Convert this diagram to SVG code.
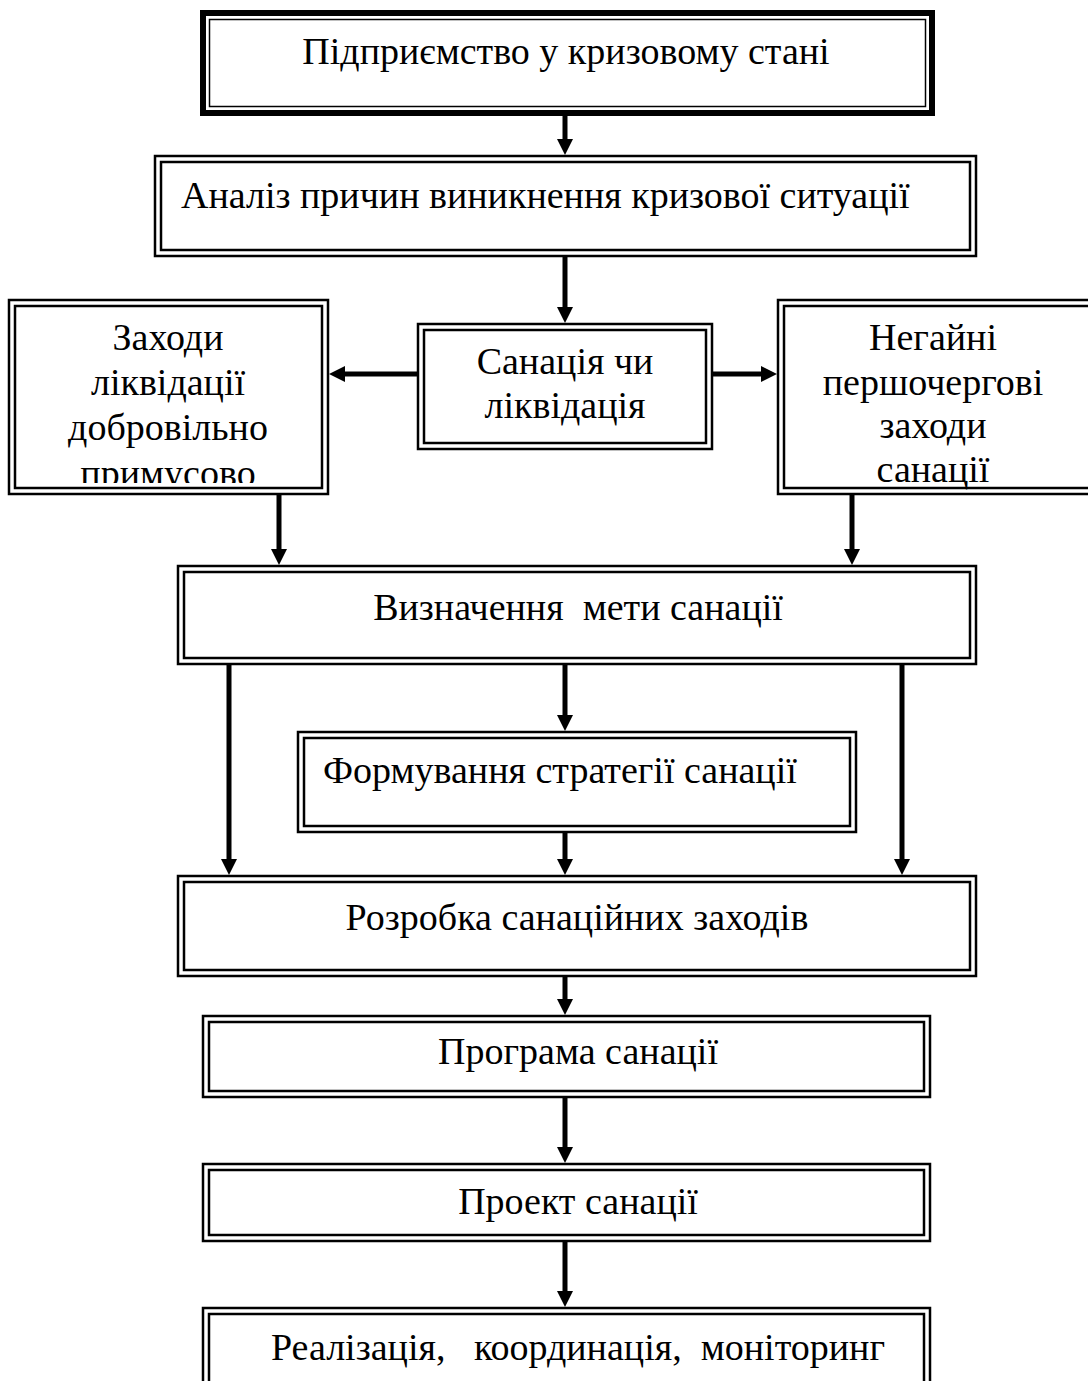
<svg xmlns="http://www.w3.org/2000/svg" width="1088" height="1381" viewBox="0 0 1088 1381">
<style>
.o{fill:#fff;stroke:#000;stroke-width:2.5}
.i{fill:none;stroke:#000;stroke-width:2.5}
.t{font-family:"Liberation Serif","Times New Roman",serif;font-size:38px;fill:#000}
.c{text-anchor:middle}
.ln{stroke:#000;stroke-width:5;fill:none;marker-end:url(#ah)}
</style>
<defs>
<marker id="ah" viewBox="0 0 16 16" refX="1" refY="8" markerWidth="16" markerHeight="16" markerUnits="userSpaceOnUse" orient="auto">
<path d="M0,0 L16,8 L0,16 z" fill="#000"/>
</marker>
<clipPath id="clipL"><rect x="0" y="290" width="340" height="193"/></clipPath>
</defs>
<rect width="1088" height="1381" fill="#fff"/>

<g id="n1">
<rect x="203" y="13" width="729" height="100" fill="#fff" stroke="#000" stroke-width="6"/>
<rect x="209.5" y="19.5" width="716" height="87" fill="none" stroke="#000" stroke-width="1.5"/>
<text class="t c" x="566" y="64">Підприємство у кризовому стані</text>
</g>

<g id="n2">
<rect class="o" x="155" y="156" width="821" height="100"/>
<rect class="i" x="161" y="162" width="809" height="88"/>
<text class="t" x="181" y="208">Аналіз причин виникнення кризової ситуації</text>
</g>

<g id="n3">
<rect class="o" x="418" y="324" width="294" height="125"/>
<rect class="i" x="424" y="330" width="282" height="113"/>
<text class="t c" x="565" y="374">Санація чи</text>
<text class="t c" x="565" y="418">ліквідація</text>
</g>

<g id="n4">
<rect class="o" x="9" y="300" width="319" height="194"/>
<rect class="i" x="15" y="306" width="307" height="182"/>
<g clip-path="url(#clipL)">
<text class="t c" x="168" y="350">Заходи</text>
<text class="t c" x="168" y="395">ліквідації</text>
<text class="t c" x="168" y="440">добровільно</text>
<text class="t c" x="168" y="486">примусово</text>
</g>
</g>

<g id="n5">
<rect class="o" x="778" y="300" width="330" height="194"/>
<rect class="i" x="784" y="306" width="318" height="182"/>
<text class="t c" x="933" y="350">Негайні</text>
<text class="t c" x="933" y="395">першочергові</text>
<text class="t c" x="933" y="438">заходи</text>
<text class="t c" x="933" y="482">санації</text>
</g>

<g id="n6">
<rect class="o" x="178" y="566" width="798" height="98"/>
<rect class="i" x="184" y="572" width="786" height="86"/>
<text class="t c" x="578" y="620" xml:space="preserve">Визначення  мети санації</text>
</g>

<g id="n7">
<rect class="o" x="298" y="732" width="558" height="100"/>
<rect class="i" x="304" y="738" width="546" height="88"/>
<text class="t" x="323" y="783">Формування стратегії санації</text>
</g>

<g id="n8">
<rect class="o" x="178" y="876" width="798" height="100"/>
<rect class="i" x="184" y="882" width="786" height="88"/>
<text class="t c" x="577" y="930">Розробка санаційних заходів</text>
</g>

<g id="n9">
<rect class="o" x="203" y="1016" width="727" height="81"/>
<rect class="i" x="209" y="1022" width="715" height="69"/>
<text class="t c" x="578" y="1064">Програма санації</text>
</g>

<g id="n10">
<rect class="o" x="203" y="1164" width="727" height="77"/>
<rect class="i" x="209" y="1170" width="715" height="65"/>
<text class="t c" x="578" y="1214">Проект санації</text>
</g>

<g id="n11">
<rect class="o" x="203" y="1308" width="727" height="90"/>
<rect class="i" x="209" y="1314" width="715" height="78"/>
<text class="t c" x="578" y="1360" xml:space="preserve">Реалізація,   координація,  моніторинг</text>
</g>

<g id="connectors">
<line class="ln" x1="565" y1="113" x2="565" y2="140"/>
<line class="ln" x1="565" y1="256" x2="565" y2="308"/>
<line class="ln" x1="418" y1="374" x2="344" y2="374"/>
<line class="ln" x1="712" y1="374" x2="762" y2="374"/>
<line class="ln" x1="279" y1="494" x2="279" y2="550"/>
<line class="ln" x1="852" y1="494" x2="852" y2="550"/>
<line class="ln" x1="229" y1="664" x2="229" y2="860"/>
<line class="ln" x1="565" y1="664" x2="565" y2="716"/>
<line class="ln" x1="902" y1="664" x2="902" y2="860"/>
<line class="ln" x1="565" y1="832" x2="565" y2="860"/>
<line class="ln" x1="565" y1="976" x2="565" y2="1000"/>
<line class="ln" x1="565" y1="1097" x2="565" y2="1148"/>
<line class="ln" x1="565" y1="1241" x2="565" y2="1292"/>
</g>
</svg>
